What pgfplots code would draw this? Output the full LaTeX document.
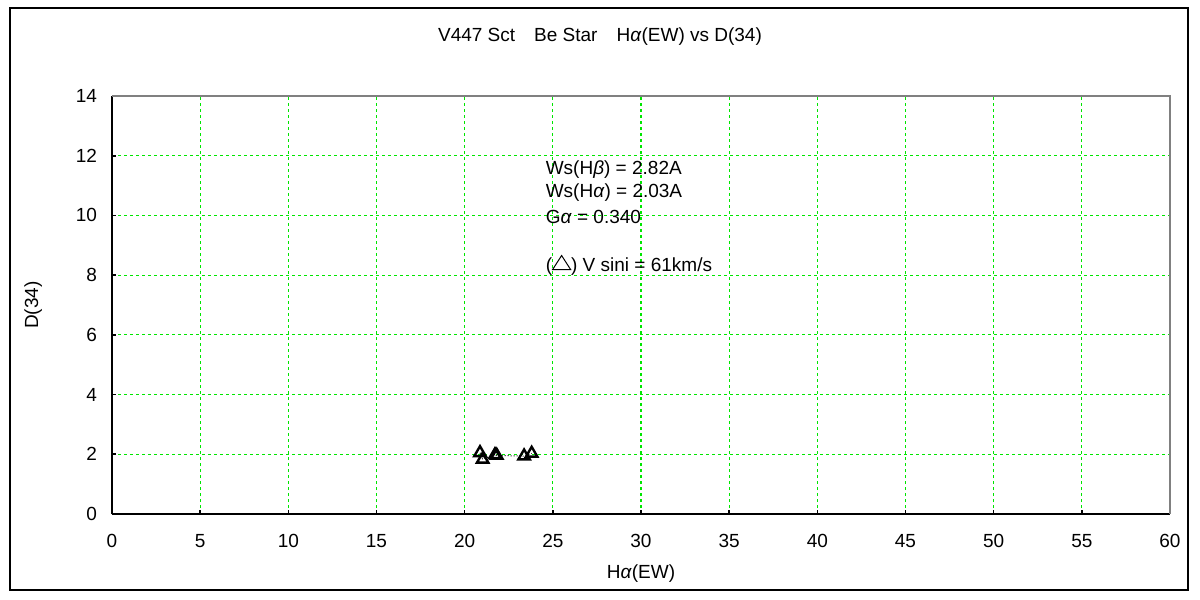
\documentclass[border=0pt]{standalone}
\usepackage{pgfplots}
\pgfplotsset{compat=1.18}
\usepackage{fontspec}
\setmainfont{Liberation Sans}
\definecolor{gridgreen}{RGB}{0,230,0}
\begin{document}
\begin{tikzpicture}[x=1pt,y=1pt]
\fill[white] (0,0) rectangle (600,300);
\draw[black, line width=0.8pt] (5,5) rectangle (594,296);
\node[font=\fontsize{9.5}{11}\selectfont] at (300,281.5) {V447 Sct\quad Be Star\quad H\textit{α}(EW) vs D(34)};
\begin{axis}[
  at={(56pt,43pt)}, anchor=south west,
  scale only axis, width=529pt, height=209pt,
  xmin=0, xmax=60, ymin=0, ymax=14,
  xtick={0,5,...,60}, ytick={0,2,...,14},
  axis x line=bottom, axis y line=left,
  axis line style={black, line width=1pt, -},
  tick align=inside, major tick length=2pt,
  tick style={black, line width=0.8pt},
  grid=major,
  major grid style={gridgreen, dash pattern=on 1.5pt off 1.5pt, line width=0.6pt},
  ticklabel style={font=\fontsize{9.5}{11}\selectfont},
  /pgf/number format/assume math mode=true,
  xticklabel style={yshift=-6.5pt},
  yticklabel style={xshift=-4pt},
  xlabel={H\textit{α}(EW)}, ylabel={D(34)},
  label style={font=\fontsize{9.5}{11}\selectfont},
  xlabel style={yshift=-1.5pt},
  ylabel style={yshift=10pt},
  clip=false,
]
\draw[gray, line width=1.2pt] (rel axis cs:0,1) -- (rel axis cs:1,1) -- (rel axis cs:1,0);
\addplot[black, densely dotted, line width=0.5pt, mark=triangle, mark size=3.3pt,
  mark options={solid, line width=1.2pt}] coordinates {
  (20.87,2.05) (21.02,1.83) (21.72,1.98) (21.82,1.96) (23.37,1.94) (23.80,2.03)
};
\node[anchor=west, font=\fontsize{9.5}{11}\selectfont, align=left] at (axis cs:24.2,11.55) {Ws(H\textit{β}) = 2.82A};
\node[anchor=west, font=\fontsize{9.5}{11}\selectfont] at (axis cs:24.2,10.75) {Ws(H\textit{α}) = 2.03A};
\node[anchor=west, font=\fontsize{9.5}{11}\selectfont] at (axis cs:24.2,9.95) {G\textit{α} = 0.340};
\node[anchor=west, font=\fontsize{9.5}{11}\selectfont] at (axis cs:24.2,8.34) {(\raisebox{0.1ex}{\tikz\draw[line width=0.5pt] (0,0)--(9pt,0)--(4.5pt,7pt)--cycle;}) V sini = 61km/s};
\end{axis}
\end{tikzpicture}
\end{document}
